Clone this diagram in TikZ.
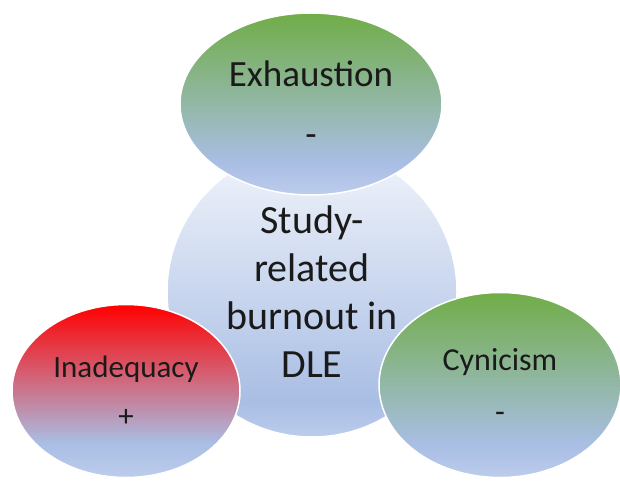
\documentclass[tikz,border=0pt]{standalone}
\usepackage{fontspec}
\setmainfont{Carlito}
\usetikzlibrary{shapes.geometric}
\definecolor{ogreen}{HTML}{70AD47}
\definecolor{ored}{HTML}{FF0000}
\definecolor{bmid}{HTML}{A9BEE4}
\definecolor{blight}{HTML}{BCCCEC}
\definecolor{ctop}{HTML}{F2F5FB}
\definecolor{txt}{HTML}{1A1A1A}
\pgfdeclareverticalshading{greenblue}{100bp}{color(0bp)=(blight); color(25bp)=(blight); color(34bp)=(bmid); color(75bp)=(ogreen); color(100bp)=(ogreen)}
\pgfdeclareverticalshading{redblue}{100bp}{color(0bp)=(blight); color(25bp)=(blight); color(35bp)=(bmid); color(75bp)=(ored); color(100bp)=(ored)}
\pgfdeclareverticalshading{centreblue}{100bp}{color(0bp)=(blight); color(25bp)=(blight); color(31bp)=(bmid); color(75bp)=(ctop); color(100bp)=(ctop)}
\tikzset{
  bubble/.style={ellipse, shade, draw=white, line width=1.5pt, inner sep=0pt, outer sep=0pt, align=center, text=txt},
}
\begin{document}
\begin{tikzpicture}[x=1pt, y=-1pt]
\useasboundingbox (0,0) rectangle (620,481);
\node[bubble, shading=centreblue, minimum width=290pt, minimum height=290pt,
      font=\fontsize{40}{48}\selectfont] (core) at (312,292)
      {Study-\\related\\burnout in\\DLE};
\node[bubble, shading=greenblue, minimum width=262pt, minimum height=182pt,
      font=\fontsize{37}{60}\selectfont] (exh) at (311,104)
      {Exhaustion\\-};
\node[bubble, shading=redblue, minimum width=228pt, minimum height=173pt,
      font=\fontsize{31}{49}\selectfont] (inad) at (126,391)
      {Inadequacy\\+};
\node[bubble, shading=greenblue, minimum width=242pt, minimum height=185pt,
      font=\fontsize{32}{52}\selectfont] (cyn) at (500,385)
      {Cynicism\\-};
\end{tikzpicture}
\end{document}
